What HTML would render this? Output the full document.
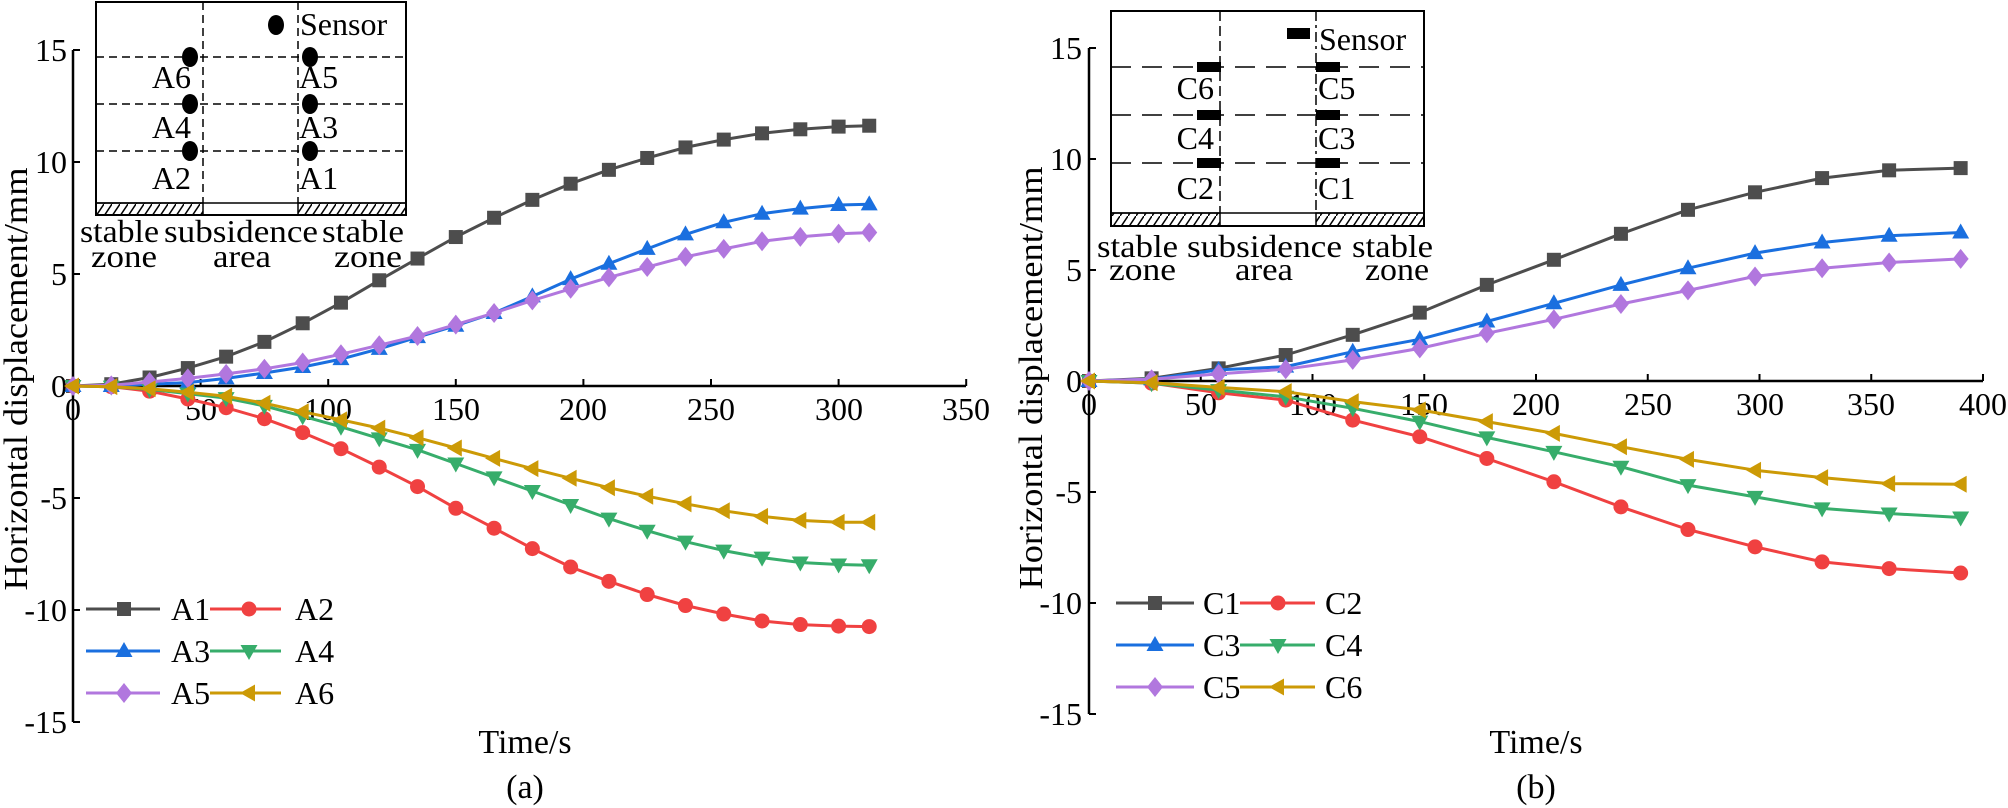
<!DOCTYPE html>
<html><head><meta charset="utf-8"><style>
html,body{margin:0;padding:0;background:#fff;}
svg{display:block;font-family:"Liberation Serif",serif;}
</style></head><body>
<svg id="s" width="2008" height="808" viewBox="0 0 2008 808" xmlns="http://www.w3.org/2000/svg">
<defs>
<pattern id="h" width="8" height="12" patternUnits="userSpaceOnUse">
<line x1="0" y1="12" x2="8" y2="0" stroke="#000" stroke-width="1.5"/>
</pattern>
</defs>
<rect width="2008" height="808" fill="#fff"/>
<!-- LEFT AXES -->
<g stroke="#000" stroke-width="2.5" fill="none">
<line x1="73" y1="50" x2="73" y2="722"/>
<line x1="73" y1="386" x2="966" y2="386"/>
</g>
<g id="ltick" stroke="#000" stroke-width="2"></g>
<g font-size="32" text-anchor="end">
<text x="67" y="61">15</text><text x="67" y="173">10</text><text x="67" y="285">5</text><text x="67" y="397">0</text>
<text x="67" y="509">-5</text><text x="67" y="621">-10</text><text x="67" y="733">-15</text>
</g>
<g font-size="32" text-anchor="middle">
<text x="73" y="420">0</text><text x="201" y="420">50</text><text x="328" y="420">100</text><text x="456" y="420">150</text>
<text x="583" y="420">200</text><text x="711" y="420">250</text><text x="839" y="420">300</text><text x="966" y="420">350</text>
<text x="525" y="753" font-size="34">Time/s</text>
<text x="525" y="798" font-size="34">(a)</text>
</g>
<text transform="translate(27,379) rotate(-90)" text-anchor="middle" font-size="34" textLength="423" lengthAdjust="spacingAndGlyphs">Horizontal displacement/mm</text>

<!-- RIGHT AXES -->
<g stroke="#000" stroke-width="2.5" fill="none">
<line x1="1089" y1="48" x2="1089" y2="714"/>
<line x1="1089" y1="381" x2="1983" y2="381"/>
</g>
<g id="rtick" stroke="#000" stroke-width="2"></g>
<g font-size="32" text-anchor="end">
<text x="1082" y="59">15</text><text x="1082" y="170">10</text><text x="1082" y="281">5</text><text x="1082" y="392">0</text>
<text x="1082" y="503">-5</text><text x="1082" y="614">-10</text><text x="1082" y="725">-15</text>
</g>
<g font-size="32" text-anchor="middle">
<text x="1089" y="415">0</text><text x="1201" y="415">50</text><text x="1313" y="415">100</text><text x="1424" y="415">150</text>
<text x="1536" y="415">200</text><text x="1648" y="415">250</text><text x="1760" y="415">300</text><text x="1871" y="415">350</text><text x="1983" y="415">400</text>
<text x="1536" y="753" font-size="34">Time/s</text>
<text x="1536" y="798" font-size="34">(b)</text>
</g>
<text transform="translate(1042,378) rotate(-90)" text-anchor="middle" font-size="34" textLength="423" lengthAdjust="spacingAndGlyphs">Horizontal displacement/mm</text>

<g id="series"></g>

<!-- LEFT INSET -->
<g>
<rect x="96" y="2" width="310" height="213" fill="#fff" stroke="#000" stroke-width="2"/>
<rect x="96" y="203" width="107" height="12" fill="url(#h)" stroke="#000" stroke-width="1.5"/>
<rect x="298" y="203" width="108" height="12" fill="url(#h)" stroke="#000" stroke-width="1.5"/>
<line x1="96" y1="203" x2="406" y2="203" stroke="#000" stroke-width="1.5"/>
<g stroke="#000" stroke-width="1.5" stroke-dasharray="8,5" fill="none">
<line x1="203" y1="2" x2="203" y2="203"/>
<line x1="298" y1="2" x2="298" y2="203"/>
<line x1="96" y1="57" x2="406" y2="57"/>
<line x1="96" y1="104" x2="406" y2="104"/>
<line x1="96" y1="151" x2="406" y2="151"/>
</g>
<g fill="#000">
<ellipse cx="276" cy="25" rx="8" ry="10"/>
<ellipse cx="190" cy="57" rx="8" ry="10"/><ellipse cx="310" cy="57" rx="8" ry="10"/>
<ellipse cx="190" cy="104" rx="8" ry="10"/><ellipse cx="310" cy="104" rx="8" ry="10"/>
<ellipse cx="190" cy="151" rx="8" ry="10"/><ellipse cx="310" cy="151" rx="8" ry="10"/>
</g>
<g font-size="32">
<text x="300" y="35">Sensor</text>
<text x="191" y="88" text-anchor="end">A6</text><text x="299" y="88">A5</text>
<text x="191" y="138" text-anchor="end">A4</text><text x="299" y="138">A3</text>
<text x="191" y="189" text-anchor="end">A2</text><text x="299" y="189">A1</text>
<text x="80" y="242" textLength="79" lengthAdjust="spacingAndGlyphs">stable</text>
<text x="164" y="242" textLength="154" lengthAdjust="spacingAndGlyphs">subsidence</text>
<text x="322" y="242" textLength="82" lengthAdjust="spacingAndGlyphs">stable</text>
<text x="91" y="267" textLength="66" lengthAdjust="spacingAndGlyphs">zone</text>
<text x="213" y="267" textLength="58" lengthAdjust="spacingAndGlyphs">area</text>
<text x="334" y="267" textLength="68" lengthAdjust="spacingAndGlyphs">zone</text>
</g>
</g>

<!-- RIGHT INSET -->
<g>
<rect x="1111" y="11" width="313" height="215" fill="#fff" stroke="#000" stroke-width="2"/>
<rect x="1111" y="213" width="109" height="13" fill="url(#h)" stroke="#000" stroke-width="1.5"/>
<rect x="1316" y="213" width="108" height="13" fill="url(#h)" stroke="#000" stroke-width="1.5"/>
<line x1="1111" y1="213" x2="1424" y2="213" stroke="#000" stroke-width="1.5"/>
<g stroke="#000" stroke-width="1.5" fill="none">
<line x1="1220" y1="11" x2="1220" y2="213" stroke-dasharray="10,5"/>
<line x1="1316" y1="11" x2="1316" y2="213" stroke-dasharray="10,4,3,4"/>
<line x1="1111" y1="67" x2="1424" y2="67" stroke-dasharray="20,11"/>
<line x1="1111" y1="115" x2="1424" y2="115" stroke-dasharray="20,11"/>
<line x1="1111" y1="163" x2="1424" y2="163" stroke-dasharray="20,11"/>
</g>
<g fill="#000">
<rect x="1287" y="28" width="23" height="11"/>
<rect x="1197" y="62" width="24" height="10"/><rect x="1316" y="62" width="24" height="10"/>
<rect x="1197" y="110" width="24" height="10"/><rect x="1316" y="110" width="24" height="10"/>
<rect x="1197" y="158" width="24" height="10"/><rect x="1316" y="158" width="24" height="10"/>
</g>
<g font-size="32">
<text x="1319" y="50">Sensor</text>
<text x="1214" y="99" text-anchor="end">C6</text><text x="1318" y="99">C5</text>
<text x="1214" y="149" text-anchor="end">C4</text><text x="1318" y="149">C3</text>
<text x="1214" y="199" text-anchor="end">C2</text><text x="1318" y="199">C1</text>
<text x="1097" y="257" textLength="81" lengthAdjust="spacingAndGlyphs">stable</text>
<text x="1187" y="257" textLength="155" lengthAdjust="spacingAndGlyphs">subsidence</text>
<text x="1352" y="257" textLength="81" lengthAdjust="spacingAndGlyphs">stable</text>
<text x="1109" y="280" textLength="67" lengthAdjust="spacingAndGlyphs">zone</text>
<text x="1235" y="280" textLength="58" lengthAdjust="spacingAndGlyphs">area</text>
<text x="1365" y="280" textLength="64" lengthAdjust="spacingAndGlyphs">zone</text>
</g>
</g>

<!-- LEGEND TEXT -->
<g font-size="32">
<text x="171" y="620">A1</text><text x="295" y="620">A2</text>
<text x="171" y="662">A3</text><text x="295" y="662">A4</text>
<text x="171" y="704">A5</text><text x="295" y="704">A6</text>
<text x="1203" y="614">C1</text><text x="1325" y="614">C2</text>
<text x="1203" y="656">C3</text><text x="1325" y="656">C4</text>
<text x="1203" y="698">C5</text><text x="1325" y="698">C6</text>
</g>
<g id="legend"></g>
</svg>
<script>
(function(){
var NS="http://www.w3.org/2000/svg";
function el(p,tag,a){var e=document.createElementNS(NS,tag);for(var k in a)e.setAttribute(k,a[k]);p.appendChild(e);return e;}
var lt=document.getElementById('ltick'),rt=document.getElementById('rtick');
for(var i=-3;i<=3;i++){var y=386-i*112;el(lt,'line',{x1:73,y1:y,x2:80,y2:y});}
for(var i=1;i<=7;i++){var x=73+i*127.6;el(lt,'line',{x1:x,y1:386,x2:x,y2:379});}
for(var i=-3;i<=3;i++){var y=381-i*111;el(rt,'line',{x1:1089,y1:y,x2:1096,y2:y});}
for(var i=1;i<=8;i++){var x=1089+i*111.75;el(rt,'line',{x1:x,y1:381,x2:x,y2:374});}
var C={s:'#4d4d4d',o:'#f04141',u:'#1a6fdf',d:'#37ad6b',m:'#b177de',l:'#cc9a06'};
function mark(g,type,x,y,c){
 var r=8;
 if(type=='s')el(g,'rect',{x:x-7,y:y-7,width:14,height:14,fill:c});
 else if(type=='o')el(g,'circle',{cx:x,cy:y,r:7.5,fill:c});
 else if(type=='u')el(g,'polygon',{points:(x)+','+(y-9)+' '+(x+8.5)+','+(y+6)+' '+(x-8.5)+','+(y+6),fill:c});
 else if(type=='d')el(g,'polygon',{points:(x)+','+(y+9)+' '+(x+8.5)+','+(y-6)+' '+(x-8.5)+','+(y-6),fill:c});
 else if(type=='m')el(g,'polygon',{points:x+','+(y-10)+' '+(x+8)+','+y+' '+x+','+(y+10)+' '+(x-8)+','+y,fill:c});
 else if(type=='l')el(g,'polygon',{points:(x-9)+','+y+' '+(x+6)+','+(y-8.5)+' '+(x+6)+','+(y+8.5),fill:c});
}
var g=document.getElementById('series');
var tA=[];for(var i=0;i<=20;i++)tA.push(i*15);tA.push(312);
var A=[
['s',[0,.08,.38,.8,1.31,1.97,2.8,3.72,4.72,5.69,6.65,7.51,8.31,9.03,9.65,10.18,10.65,11.0,11.28,11.46,11.58,11.62]],
['o',[0,-.03,-.23,-.58,-.97,-1.46,-2.08,-2.8,-3.62,-4.49,-5.46,-6.35,-7.26,-8.08,-8.72,-9.31,-9.8,-10.18,-10.49,-10.65,-10.72,-10.74]],
['u',[0,0,.08,.15,.34,.58,.85,1.2,1.66,2.18,2.69,3.26,4.0,4.77,5.46,6.12,6.77,7.31,7.69,7.92,8.08,8.11]],
['d',[0,-.03,-.15,-.34,-.54,-.89,-1.35,-1.82,-2.34,-2.85,-3.46,-4.08,-4.69,-5.31,-5.92,-6.46,-6.95,-7.35,-7.66,-7.88,-7.97,-8.0]],
['m',[0,.03,.18,.34,.54,.77,1.05,1.42,1.82,2.23,2.74,3.26,3.82,4.34,4.85,5.31,5.77,6.12,6.46,6.66,6.8,6.85]],
['l',[0,-.03,-.12,-.28,-.46,-.77,-1.15,-1.51,-1.88,-2.31,-2.77,-3.23,-3.69,-4.12,-4.54,-4.92,-5.26,-5.57,-5.82,-6.0,-6.08,-6.08]]];
var tC=[0,28,58,88,118,148,178,208,238,268,298,328,358,390];
var Cd=[
['s',[0,.12,.57,1.17,2.08,3.08,4.33,5.46,6.63,7.71,8.5,9.14,9.49,9.59]],
['o',[0,-.1,-.53,-.86,-1.76,-2.51,-3.49,-4.54,-5.67,-6.69,-7.47,-8.15,-8.45,-8.65]],
['u',[0,.08,.5,.65,1.32,1.88,2.68,3.5,4.33,5.08,5.76,6.24,6.54,6.69]],
['d',[0,-.1,-.41,-.71,-1.23,-1.83,-2.54,-3.19,-3.86,-4.69,-5.22,-5.74,-5.97,-6.15]],
['m',[0,.08,.32,.53,.95,1.47,2.15,2.78,3.47,4.08,4.71,5.08,5.34,5.5]],
['l',[0,-.08,-.29,-.48,-.93,-1.3,-1.83,-2.36,-2.96,-3.53,-4.02,-4.35,-4.62,-4.65]]];
function draw(T,D,x0,sx,y0,sy){
 D.forEach(function(s){
  var c=C[s[0]],pts=s[1].map(function(v,i){return [x0+T[i]*sx,y0-v*sy];});
  el(g,'polyline',{points:pts.map(function(p){return p[0].toFixed(1)+','+p[1].toFixed(1)}).join(' '),fill:'none',stroke:c,'stroke-width':3,'stroke-linejoin':'round'});
  pts.forEach(function(p){mark(g,s[0],p[0],p[1],c);});
 });
}
draw(tA,A,73,2.552,386,22.4);
draw(tC,Cd,1089,2.235,381,22.2);
var lg=document.getElementById('legend');
var order=['s','o','u','d','m','l'];
function leg(x1a,x2a,ma,x1b,x2b,mb,ys){
 for(var r=0;r<3;r++){var y=ys[r];
  var a=order[r*2],b=order[r*2+1];
  el(lg,'line',{x1:x1a,y1:y,x2:x2a,y2:y,stroke:C[a],'stroke-width':3});mark(lg,a,ma,y,C[a]);
  el(lg,'line',{x1:x1b,y1:y,x2:x2b,y2:y,stroke:C[b],'stroke-width':3});mark(lg,b,mb,y,C[b]);
 }
}
leg(86,160,124,210,281,249,[609,651,693]);
leg(1116,1194,1155,1240,1315,1278,[603,645,687]);
})();
</script>
</body></html>
